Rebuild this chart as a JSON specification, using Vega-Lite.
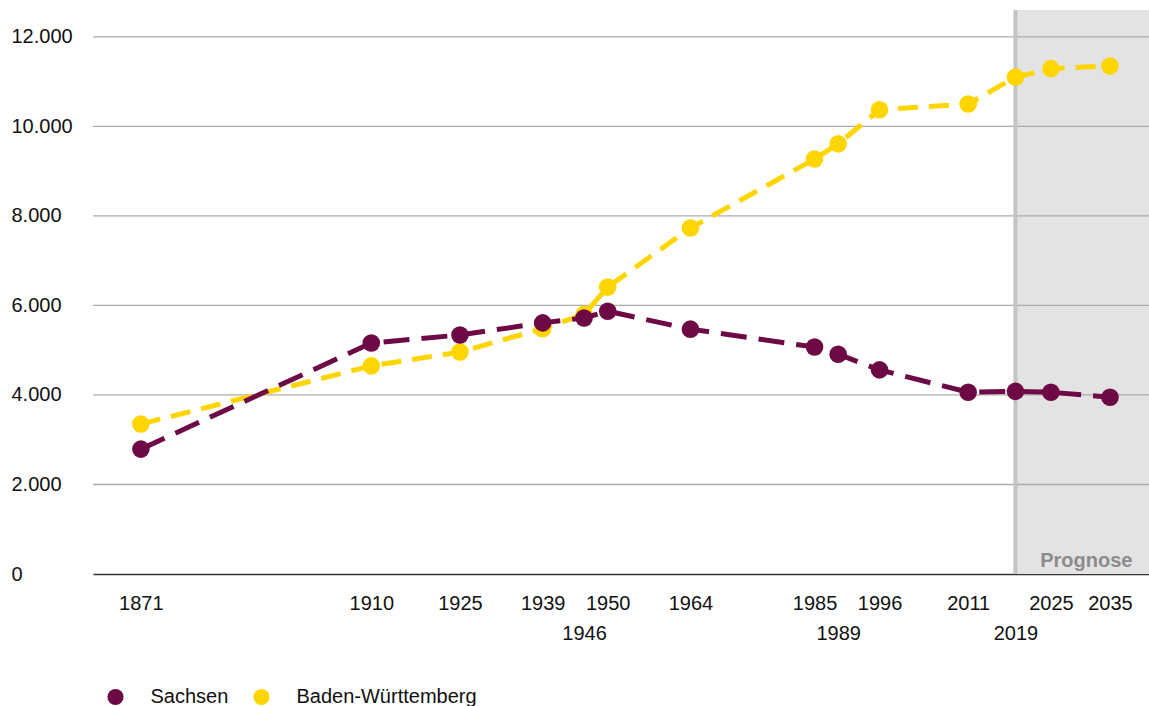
{
  "$schema": "https://vega.github.io/schema/vega-lite/v6.json",
  "width": 1056,
  "height": 564,
  "autosize": {"type": "none"},
  "padding": {"left": 93, "top": 10, "right": 0, "bottom": 132},
  "background": "white",
  "config": {
    "view": {"stroke": null},
    "font": "Liberation Sans",
    "text": {"font": "Liberation Sans"},
    "axis": {"title": null, "grid": false, "ticks": false, "labelFontSize": 20, "labelColor": "#111111", "labelFont": "Liberation Sans", "labelFlush": false, "labelOverlap": false},
    "axisX": {"domainColor": "#333333", "domainWidth": 1.5, "labelPadding": 19, "labelBaseline": "top", "labelLineHeight": 30},
    "axisY": {"domain": false, "labelAlign": "left", "labelBaseline": "middle", "labelPadding": 82},
    "legend": {"title": null, "orient": "none", "legendX": 12.5, "legendY": 677, "direction": "horizontal", "symbolType": "circle", "symbolSize": 260, "symbolStrokeWidth": 0, "symbolOpacity": 1, "labelFontSize": 20, "labelFont": "Liberation Sans", "labelColor": "#111111", "labelOffset": 25, "labelLimit": 400, "columnPadding": 23, "padding": 0}
  },
  "datasets": {
    "main": [
      {"jahr": 1871, "land": "Sachsen", "wert": 2790},
      {"jahr": 1910, "land": "Sachsen", "wert": 5160},
      {"jahr": 1925, "land": "Sachsen", "wert": 5340},
      {"jahr": 1939, "land": "Sachsen", "wert": 5610},
      {"jahr": 1946, "land": "Sachsen", "wert": 5720},
      {"jahr": 1950, "land": "Sachsen", "wert": 5870},
      {"jahr": 1964, "land": "Sachsen", "wert": 5470},
      {"jahr": 1985, "land": "Sachsen", "wert": 5070},
      {"jahr": 1989, "land": "Sachsen", "wert": 4910},
      {"jahr": 1996, "land": "Sachsen", "wert": 4560},
      {"jahr": 2011, "land": "Sachsen", "wert": 4060},
      {"jahr": 2019, "land": "Sachsen", "wert": 4080},
      {"jahr": 2025, "land": "Sachsen", "wert": 4060},
      {"jahr": 2035, "land": "Sachsen", "wert": 3950},
      {"jahr": 1871, "land": "Baden-Württemberg", "wert": 3350},
      {"jahr": 1910, "land": "Baden-Württemberg", "wert": 4650},
      {"jahr": 1925, "land": "Baden-Württemberg", "wert": 4960},
      {"jahr": 1939, "land": "Baden-Württemberg", "wert": 5480},
      {"jahr": 1946, "land": "Baden-Württemberg", "wert": 5800},
      {"jahr": 1950, "land": "Baden-Württemberg", "wert": 6410},
      {"jahr": 1964, "land": "Baden-Württemberg", "wert": 7730},
      {"jahr": 1985, "land": "Baden-Württemberg", "wert": 9270},
      {"jahr": 1989, "land": "Baden-Württemberg", "wert": 9610},
      {"jahr": 1996, "land": "Baden-Württemberg", "wert": 10370},
      {"jahr": 2011, "land": "Baden-Württemberg", "wert": 10500},
      {"jahr": 2019, "land": "Baden-Württemberg", "wert": 11100},
      {"jahr": 2025, "land": "Baden-Württemberg", "wert": 11290},
      {"jahr": 2035, "land": "Baden-Württemberg", "wert": 11350}
    ]
  },
  "encoding": {
    "x": {
      "field": "jahr", "type": "quantitative",
      "scale": {"domain": [1862.9, 2041.6], "nice": false, "zero": false},
      "axis": {
        "values": [1871, 1910, 1925, 1939, 1946, 1950, 1964, 1985, 1989, 1996, 2011, 2019, 2025, 2035],
        "format": "d",
        "labelExpr": "indexof([1946, 1989, 2019], datum.value) >= 0 ? ['', datum.label] : datum.label"
      }
    },
    "y": {
      "field": "wert", "type": "quantitative",
      "scale": {"domain": [0, 12600], "nice": false},
      "axis": {
        "values": [0, 2000, 4000, 6000, 8000, 10000, 12000],
        "format": ",d",
        "labelExpr": "replace(datum.label, ',', '.')"
      }
    }
  },
  "layer": [
    {
      "data": {"values": [{"jahr": 2019, "jahr2": 2060, "wert": 0, "wert2": 12600}]},
      "mark": {"type": "rect", "color": "#e3e3e3", "clip": true},
      "encoding": {
        "x2": {"field": "jahr2"},
        "y2": {"field": "wert2"}
      }
    },
    {
      "data": {"values": [{"wert": 2000}, {"wert": 4000}, {"wert": 6000}, {"wert": 8000}, {"wert": 10000}, {"wert": 12000}]},
      "mark": {"type": "rule", "color": "#ababab", "strokeWidth": 1.3},
      "encoding": {"x": null}
    },
    {
      "data": {"values": [{"jahr": 2019, "wert": 0, "wert2": 12600}]},
      "mark": {"type": "rule", "color": "#c4c4c4", "strokeWidth": 4},
      "encoding": {"y2": {"field": "wert2"}}
    },
    {
      "data": {"name": "main"},
      "transform": [{"filter": "datum.land == 'Baden-Württemberg'"}],
      "mark": {"type": "line", "strokeWidth": 5, "strokeDash": [20, 11]},
      "encoding": {
        "color": {"field": "land", "type": "nominal", "scale": {"domain": ["Sachsen", "Baden-Württemberg"], "range": ["#6d0a46", "#ffd500"]}}
      }
    },
    {
      "data": {"name": "main"},
      "transform": [{"filter": "datum.land == 'Baden-Württemberg'"}],
      "mark": {"type": "circle", "size": 310, "opacity": 1},
      "encoding": {
        "color": {"field": "land", "type": "nominal", "scale": {"domain": ["Sachsen", "Baden-Württemberg"], "range": ["#6d0a46", "#ffd500"]}}
      }
    },
    {
      "data": {"name": "main"},
      "transform": [{"filter": "datum.land == 'Sachsen'"}],
      "mark": {"type": "line", "strokeWidth": 5, "strokeDash": [26, 12]},
      "encoding": {
        "color": {"field": "land", "type": "nominal", "scale": {"domain": ["Sachsen", "Baden-Württemberg"], "range": ["#6d0a46", "#ffd500"]}}
      }
    },
    {
      "data": {"name": "main"},
      "transform": [{"filter": "datum.land == 'Sachsen'"}],
      "mark": {"type": "circle", "size": 310, "opacity": 1},
      "encoding": {
        "color": {"field": "land", "type": "nominal", "scale": {"domain": ["Sachsen", "Baden-Württemberg"], "range": ["#6d0a46", "#ffd500"]}}
      }
    },
    {
      "data": {"values": [{"jahr": 2031, "wert": 156, "text": "Prognose"}]},
      "mark": {"type": "text", "fontSize": 20, "fontWeight": "bold", "color": "#8c8c8c", "align": "center", "baseline": "alphabetic", "font": "Liberation Sans"},
      "encoding": {
        "text": {"field": "text"}
      }
    }
  ]
}
